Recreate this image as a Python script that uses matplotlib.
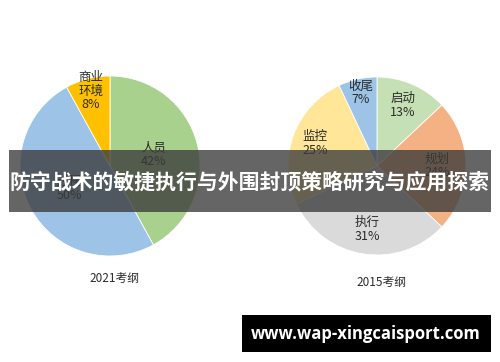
import numpy as np
import matplotlib.pyplot as plt
from matplotlib.patches import Rectangle

plt.rcParams['font.family'] = ['Noto Sans CJK SC', 'DejaVu Sans']

# ================================
# 数据
# ================================
labels_2021 = ["人员", "过程", "商业\n环境"]
values_2021 = [42, 50, 8]
colors_2021 = ["#A9D18E", "#9DC3E6", "#FFC000"]
rfac_2021 = [0.50, 0.52, 0.86]

labels_2015 = ["启动", "规划", "执行", "监控", "收尾"]
values_2015 = [13, 24, 31, 25, 7]
colors_2015 = ["#C5E0B4", "#F4B183", "#DADADA", "#FFE699", "#9DC3E6"]
rfac_2015 = [0.74, 0.68, 0.72, 0.74, 0.84]

title_text = "防守战术的敏捷执行与外围封顶策略研究与应用探索"
site_text = "www.wap-xingcaisport.com"

W, H = 500, 362

fig = plt.figure(figsize=(5.0, 3.62), dpi=100)
ax = fig.add_axes([0, 0, 1, 1])
ax.set_xlim(0, W)
ax.set_ylim(0, H)
ax.set_aspect("equal")
ax.axis("off")


def draw_pie(center, radius, values, colors, labels, rfac, name, name_gap):
    wedges, _ = ax.pie(values, colors=colors, startangle=90, counterclock=False,
                       center=center, radius=radius,
                       wedgeprops=dict(edgecolor="white", linewidth=0.6))
    for w, lab, v, r in zip(wedges, labels, values, rfac):
        ang = np.deg2rad((w.theta1 + w.theta2) / 2)
        x = center[0] + r * radius * np.cos(ang)
        y = center[1] + r * radius * np.sin(ang)
        ax.text(x, y, f"{lab}\n{v}%", ha="center", va="center",
                fontsize=9, color="#2b2b2b", linespacing=1.05)
    ax.text(center[0] + 4, center[1] - radius - name_gap, name, ha="center", va="center",
            fontsize=8.5, color="#2b2b2b")


draw_pie((110, H - 166), 90, values_2021, colors_2021, labels_2021, rfac_2021, "2021考纲", 22)
draw_pie((377, H - 166), 89, values_2015, colors_2015, labels_2015, rfac_2015, "2015考纲", 27)

ax.set_xlim(0, W)
ax.set_ylim(0, H)

# 中间的半透明横幅
ax.add_patch(Rectangle((9, H - 212), 482, 62, facecolor="#3a3a3a", alpha=0.78,
                       edgecolor="none", zorder=5))
ax.text(250, H - 182, title_text, ha="center", va="center", color="white",
        fontsize=15, fontweight="bold", zorder=6)

# 右下角网址
ax.add_patch(Rectangle((242, H - 352), 249, 37, facecolor="black",
                       edgecolor="none", zorder=5))
ax.text(366, H - 334, site_text, ha="center", va="center", color="white",
        fontsize=12, fontweight="bold", family=["Open Sans", "DejaVu Sans"], zorder=6)

fig.savefig("out.png", dpi=100)
